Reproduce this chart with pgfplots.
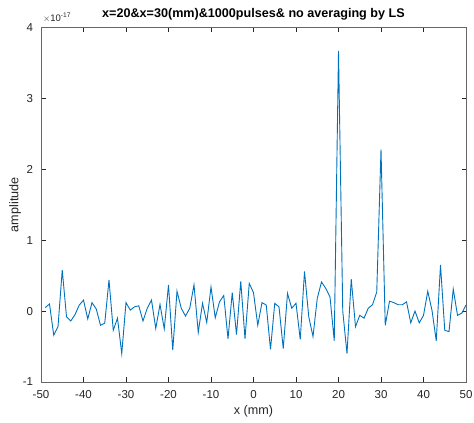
\documentclass[border=0pt]{standalone}
\usepackage{fontspec}
\setmainfont{Liberation Sans}
\usepackage{pgfplots}
\pgfplotsset{compat=1.18}
\definecolor{mlblue}{HTML}{0072BD}
\definecolor{mlaxis}{HTML}{262626}

\begin{document}
\begin{tikzpicture}
\path[use as bounding box] (0,0) rectangle (474pt,423pt);
\begin{axis}[
    at={(41pt,41pt)}, anchor=south west,
    scale only axis,
    width=425pt, height=354.5pt,
    xmin=-50, xmax=50,
    ymin=-1, ymax=4,
    xtick={-50,-40,...,50},
    ytick={-1,0,1,2,3,4},
    tick align=inside,
    major tick length=4.5pt,
    tick style={mlaxis, line width=0.5pt},
    axis line style={black!60, line width=0.6pt},
    scaled ticks=false,
    /pgf/number format/assume math mode=true,
    tick label style={font=\fontsize{11.5}{12}\selectfont, text=mlaxis},
    xticklabel style={anchor=center, yshift=-13pt},
    yticklabel style={anchor=east, inner sep=0pt, xshift=-7.7pt},
    xlabel={x (mm)},
    label style={font=\fontsize{12.6}{13}\selectfont, text=mlaxis},
    xlabel style={at={(rel axis cs:0.5,0)}, anchor=center, yshift=-29.7pt},
    title={x=20\&x=30(mm)\&1000pulses\& no averaging by LS},
    title style={font=\bfseries\fontsize{12.6}{13}\selectfont, at={(rel axis cs:0.5,1)}, anchor=center, yshift=7pt},
    clip=false,
]
\addplot[mlblue, line width=0.9pt, mark=none] table {
x y
-49 0.05
-48 0.10
-47 -0.34
-46 -0.22
-45 0.58
-44 -0.08
-43 -0.14
-42 -0.05
-41 0.085
-40 0.155
-39 -0.11
-38 0.12
-37 0.03
-36 -0.20
-35 -0.17
-34 0.44
-33 -0.27
-32 -0.10
-31 -0.60
-30 0.12
-29 0.014
-28 0.06
-27 0.075
-26 -0.14
-25 0.04
-24 0.155
-23 -0.245
-22 0.094
-21 -0.25
-20 0.37
-19 -0.55
-18 0.28
-17 0.04
-16 -0.07
-15 0.04
-14 0.37
-13 -0.30
-12 0.11
-11 -0.16
-10 0.34
-9 -0.094
-8 0.13
-7 0.22
-6 -0.39
-5 0.26
-4 -0.33
-3 0.42
-2 -0.39
-1 0.39
0 0.26
1 -0.20
2 0.12
3 0.085
4 -0.54
5 0.11
6 0.06
7 -0.53
8 0.25
9 0.04
10 0.11
11 -0.40
12 0.56
13 -0.08
14 -0.36
15 0.18
16 0.41
17 0.32
18 0.20
19 -0.42
20 3.67
21 0.0
22 -0.60
23 0.45
24 -0.22
25 -0.06
26 -0.10
27 0.04
28 0.09
29 0.27
30 2.28
31 -0.20
32 0.14
33 0.12
34 0.09
35 0.09
36 0.13
37 -0.165
38 0.0
39 -0.165
40 -0.06
41 0.28
42 0.01
43 -0.42
44 0.65
45 -0.27
46 -0.29
47 0.31
48 -0.06
49 -0.03
50 0.085
};
% y label, placed by hand
\node[xshift=-26pt, rotate=90, text=mlaxis, font=\fontsize{12.6}{13}\selectfont]
  at (axis cs:-50,1.5) {amplitude};
% exponent label in MATLAB style
\node[anchor=south west, inner sep=0pt, text=mlaxis, font=\fontsize{9.5}{10}\selectfont]
  at (rel axis cs:0,1) [xshift=2pt, yshift=5pt] {$\times$10\textsuperscript{-17}};
\end{axis}
\end{tikzpicture}
\end{document}
